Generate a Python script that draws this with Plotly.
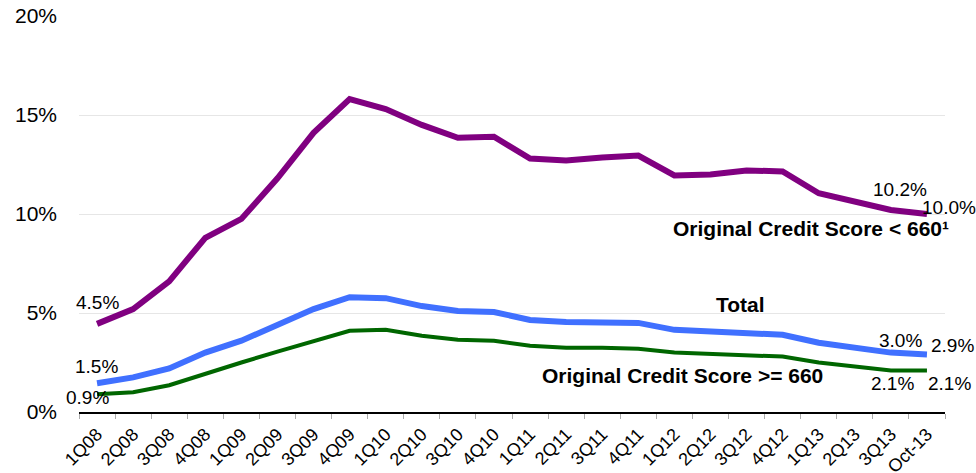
import plotly.graph_objects as go

quarters = ["1Q08", "2Q08", "3Q08", "4Q08", "1Q09", "2Q09", "3Q09", "4Q09",
            "1Q10", "2Q10", "3Q10", "4Q10", "1Q11", "2Q11", "3Q11", "4Q11",
            "1Q12", "2Q12", "3Q12", "4Q12", "1Q13", "2Q13", "3Q13", "Oct-13"]

score_lt_660 = [4.45, 5.2, 6.6, 8.8, 9.75, 11.8, 14.1, 15.8,
                15.3, 14.5, 13.85, 13.9, 12.8, 12.7, 12.85, 12.95,
                11.95, 12.0, 12.2, 12.15, 11.05, 10.6, 10.2, 10.0]
total = [1.45, 1.75, 2.2, 3.0, 3.6, 4.4, 5.2, 5.8,
         5.75, 5.35, 5.1, 5.05, 4.65, 4.55, 4.55, 4.5,
         4.15, 4.05, 4.0, 3.9, 3.5, 3.25, 3.0, 2.9]
score_ge_660 = [0.9, 1.0, 1.35, 1.95, 2.5, 3.05, 3.6, 4.1,
                4.15, 3.85, 3.65, 3.6, 3.35, 3.25, 3.25, 3.2,
                3.0, 2.95, 2.9, 2.8, 2.5, 2.3, 2.1, 2.1]

y_ticks = [0, 5, 10, 15, 20]
y_tick_labels = ["0%", "5%", "10%", "15%", "20%"]

FONT = "Liberation Sans, Arial, sans-serif"

fig = go.Figure()
fig.add_trace(go.Scatter(x=quarters, y=score_lt_660, mode="lines",
                         line=dict(color="#800080", width=6), name="Original Credit Score < 660"))
fig.add_trace(go.Scatter(x=quarters, y=total, mode="lines",
                         line=dict(color="#4070ff", width=6), name="Total"))
fig.add_trace(go.Scatter(x=quarters, y=score_ge_660, mode="lines",
                         line=dict(color="#006600", width=4), name="Original Credit Score >= 660"))

anns = []
def lab(x, y, text, xs=0, ys=0, xanchor="center", yanchor="bottom", size=19, bold=False):
    anns.append(dict(x=x, y=y, xref="x", yref="y", text=("<b>%s</b>" % text) if bold else text,
                     showarrow=False, xanchor=xanchor, yanchor=yanchor, xshift=xs, yshift=ys,
                     font=dict(family=FONT, size=size, color="#000000")))

# data labels
lab(quarters[0], score_lt_660[0], "4.5%", xs=0, ys=9)
lab(quarters[0], total[0], "1.5%", xs=-1, ys=4)
lab(quarters[0], score_ge_660[0], "0.9%", xs=-10, ys=-16)
lab(quarters[22], score_lt_660[22], "10.2%", xs=9, ys=8)
lab(quarters[23], score_lt_660[23], "10.0%", xs=22, ys=7, yanchor="middle")
lab(quarters[22], total[22], "3.0%", xs=10, ys=0)
lab(quarters[23], total[23], "2.9%", xs=26, ys=9, yanchor="middle")
lab(quarters[22], score_ge_660[22], "2.1%", xs=2, ys=-13, yanchor="middle")
lab(quarters[23], score_ge_660[23], "2.1%", xs=23, ys=-13, yanchor="middle")

# series labels
lab(quarters[20], score_lt_660[20], "Original Credit Score &lt; 660¹", xs=-8, ys=-35,
    yanchor="middle", size=21, bold=True)
lab(quarters[17], total[17], "Total", xs=30, ys=27, yanchor="middle", size=21, bold=True)
lab(quarters[16], score_ge_660[16], "Original Credit Score >= 660", xs=8, ys=-23,
    yanchor="middle", size=21, bold=True)

fig.update_layout(
    width=976, height=473,
    margin=dict(l=79, r=31, t=16, b=61, autoexpand=False),
    paper_bgcolor="white", plot_bgcolor="white",
    showlegend=False,
    font=dict(family=FONT, color="#000000"),
    annotations=anns,
    xaxis=dict(
        type="category", range=[-0.5, len(quarters) - 0.5],
        tickangle=-45, tickfont=dict(family=FONT, size=18, color="#000"),
        showline=True, linecolor="#000000", linewidth=1.5,
        ticks="outside", tickson="boundaries", ticklen=5, tickcolor="#aaaaaa",
        showgrid=False, zeroline=False, automargin=False, ticklabelstandoff=3,
    ),
    yaxis=dict(
        range=[0, 20], tickvals=y_ticks, ticktext=y_tick_labels,
        tickfont=dict(family=FONT, size=21, color="#000"),
        showgrid=True, gridcolor="#e6e6e6", gridwidth=1,
        zeroline=False, showline=False, ticks="", ticklabelstandoff=21, automargin=False,
    ),
)

fig.write_html("out.html", config={"displayModeBar": False},
               post_script="document.body.style.margin='0';document.body.style.overflow='hidden';")
